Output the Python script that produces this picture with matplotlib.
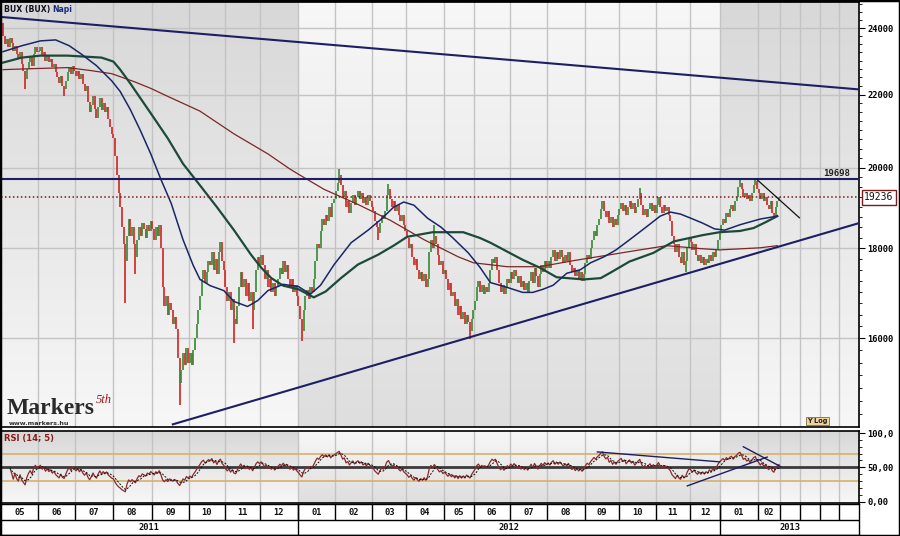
import matplotlib
matplotlib.use("Agg")
import matplotlib.pyplot as plt
import matplotlib.colors as mcolors
import numpy as np
import pandas as pd
from matplotlib.patches import Rectangle
from matplotlib import transforms
from matplotlib.ticker import FixedLocator, NullFormatter

# honapok es evek az also sorban
month_labels = ["05", "06", "07", "08", "09", "10", "11", "12",
                "01", "02", "03", "04", "05", "06", "07", "08", "09", "10", "11", "12",
                "01", "02"]
year_labels = ["2011", "2012", "2013"]
bars_per_month = [21, 22, 22, 23, 22, 21, 21, 22,
                  22, 22, 20, 22, 18, 21, 22, 22, 20, 22, 20, 18,
                  22, 13]
months_per_year = [8, 12, 2]

# BUX napi zaro ertekek (a kepbol leolvasva)
close_2011 = [
    23750, 23500, 23650, 23400, 23700, 23550, 23300, 23450, 23200, 23050, 23250,
    22900, 22700, 22450, 22750, 22950, 23100, 22850, 23200, 23400, 23250,
    23300, 23400, 23150, 23250, 23000, 23150, 22950, 23050, 22800, 22900, 22650,
    22500, 22350, 22550, 22250, 22150, 22400, 22650, 22800, 22600, 22850, 22700,
    22550, 22700, 22450, 22600, 22300, 22100, 22250, 21800, 21500, 21700, 21950,
    21600, 21350, 21650, 21900, 21550, 21750, 21500, 21650, 21300, 21100, 20900,
    20800, 20300, 19800, 19350, 19000, 18500, 18100, 17700, 18300, 18700, 18300,
    18500, 18100, 17800, 18200, 18500, 18300, 18600, 18450, 18250, 18550, 18400, 18650,
    18450, 18200, 18500, 18300, 18550, 18000, 17100, 16700, 16900, 16500, 16750,
    16600, 16300, 16450, 16200, 15600, 15100, 15350, 15700, 15450, 15800, 15500,
    15700, 15450, 15750, 16000, 16300, 16600, 16900, 17300, 17500, 17200, 17450,
    17700, 17600, 17900, 17500, 17750, 17400, 17900, 18150, 17700, 17500,
    17100, 16800, 17000, 16600, 16850, 16400, 16300, 16700, 17100, 17450, 17100,
    17300, 16900, 17200, 16800, 17000, 16600, 17000, 17500, 17800, 17600,
    17850, 17600, 17300, 17500, 17100, 17300, 17000, 17200, 16900, 17100, 17300,
    17550, 17400, 17700, 17450, 17600, 17300, 17100, 17300, 17000, 17150, 16900,
]
close_2012 = [
    16700, 16400, 16150, 16600, 16900, 17050, 16850, 17100, 17000, 17300, 17700,
    18100, 18000, 18400, 18700, 18550, 18800, 18650, 19000, 18750, 19100, 19200,
    19400, 19600, 19800, 19550, 19250, 19400, 19000, 19150, 18850, 19100, 19300,
    19050, 19250, 19400, 19200, 19350, 19100, 19250, 19050, 19300, 19150, 19000,
    18900, 18650, 18500, 18350, 18600, 18800, 18700, 18900, 19300, 19450,
    19200, 19000, 19150, 18900, 19050, 18800, 18650, 18800, 18550, 18400,
    18250, 18000, 18100, 17800, 17600, 17750, 17500, 17300, 17450, 17250, 17400,
    17100, 17300, 17900, 18200, 18000, 18300, 18100, 17850, 17600, 17700, 17400,
    17500, 17300, 17050, 17200, 16900, 17000, 16700, 16850, 16500,
    16700, 16400, 16550, 16300, 16500, 16350, 16150, 16400, 16600,
    16800, 17100, 17250, 17000, 17150, 16950, 17100, 17000, 17200, 17500, 17750,
    17650, 17800, 17500, 17200, 17000, 17150, 16950, 17100, 17300, 17200,
    17450, 17300, 17500, 17350, 17200, 17350, 17100, 17250, 17050, 17200, 17000,
    17250, 17450, 17200, 17550, 17350, 17100, 17400, 17600, 17450, 17700, 17550,
    17700, 17550, 17800, 17950, 17700, 17900, 17750, 17950, 17800, 17650, 17850,
    17700, 17900, 17600, 17450, 17550, 17350, 17500, 17300, 17450, 17250, 17400,
    17650, 17850, 17750, 18000, 18200, 18400, 18300, 18550, 18700, 18950,
    19150, 18900, 18750, 18900, 18600, 18750, 18500, 18700, 18550, 18800,
    18950, 19100, 18900, 19050, 18800, 19000, 19150, 18950, 19100, 18850, 19000,
    19200, 19350, 19050, 18800, 18950, 18750, 18950, 19100, 18900, 19050, 18850,
    19050, 19250, 19000, 18850, 19050, 18900, 19000, 18800, 18650, 18300,
    18100, 17900, 18100, 17800, 17650, 17900, 17600, 17700, 18000, 18250,
    18150, 17950, 18100, 17850, 17700, 17850, 17650, 17800, 17600,
    17750, 17650, 17850, 17700, 17900, 17800, 17950, 18200, 18400,
]
close_2013 = [
    18550, 18700, 18600, 18850, 18750, 18950, 19050, 18900, 19150, 19250, 19500,
    19600, 19450, 19250, 19350, 19200, 19300, 19150, 19350, 19550, 19650, 19450,
    19350, 19200, 19350, 19150, 19250, 19050, 18950, 19150, 18850, 18750, 19000,
    19150, 19236,
]
first_open = 23900

# hosszu kanocok
spike_lo_idx = [13, 36, 72, 78, 104, 136, 147, 176, 221, 275, 402, 454]
spike_lo = [22150, 21950, 16750, 17400, 14660, 15900, 16200, 15950, 18200, 15990, 17450, 18700]
spike_hi_idx = [0, 198, 227, 254, 375, 434, 443]
spike_hi = [24150, 19950, 19570, 18550, 19480, 19680, 19700]

# mozgoatlagok (leolvasott pontok)
ma_navy_x = [0, 11, 22, 31, 39, 46, 55, 64, 69, 75, 81, 87, 93, 99, 106, 112, 116, 122, 130, 136,
             144, 150, 156, 165, 174, 181, 187, 195, 205, 215, 222, 230, 236, 242, 250, 258, 265,
             274, 281, 287, 297, 306, 312, 318, 324, 332, 340, 346, 354, 361, 369, 378, 387, 393,
             399, 405, 412, 419, 425, 434, 446, 456]
ma_navy = [23270, 23450, 23600, 23630, 23450, 23200, 22850, 22400, 22090, 21570, 20980, 20360,
           19690, 19090, 18200, 17600, 17280, 17140, 17030, 16790, 16680, 16810, 17030, 17170,
           17120, 16950, 17150, 17620, 18130, 18430, 18670, 18990, 19120, 19040, 18720, 18500,
           18240, 17890, 17550, 17210, 17100, 16990, 16990, 17060, 17150, 17420, 17500, 17660,
           17800, 17960, 18200, 18480, 18770, 18870, 18820, 18720, 18600, 18460, 18430, 18560,
           18700, 18770]
ma_green_x = [0, 11, 22, 38, 58, 65, 69, 75, 81, 87, 97, 106, 116, 126, 136, 146, 152, 158, 165,
              174, 183, 190, 199, 209, 221, 230, 238, 253, 271, 281, 287, 306, 316, 326, 342, 352,
              358, 369, 383, 395, 412, 422, 434, 442, 449, 456]
ma_green = [22940, 23090, 23150, 23150, 23090, 22970, 22730, 22320, 21890, 21470, 20780, 20100,
            19540, 18990, 18430, 17850, 17550, 17310, 17140, 17060, 16880, 17010, 17310, 17620,
            17850, 18060, 18270, 18380, 18380, 18240, 18130, 17730, 17550, 17330, 17280, 17310,
            17440, 17690, 17890, 18160, 18310, 18380, 18410, 18480, 18620, 18770]
ma_brown_x = [0, 18, 38, 52, 64, 77, 87, 97, 116, 136, 156, 169, 175, 189, 209, 228, 248, 268, 277,
              297, 316, 336, 358, 375, 391, 411, 422, 446, 456]
ma_brown = [22730, 22760, 22790, 22700, 22610, 22380, 22180, 21950, 21530, 20900, 20360, 19960,
            19800, 19440, 19060, 18670, 18200, 17800, 17660, 17570, 17570, 17710, 17850, 17960,
            18060, 17990, 17960, 18010, 18060]

# trendvonalak
top_tl_x, top_tl_y = [-1.2, 504.1], [24350, 22150]
low_tl_x, low_tl_y = [100, 504.1], [14300, 18600]
short_tl_x, short_tl_y = [444, 469], [19690, 18730]
resistance = 19698
last_price = 19236

# RSI trendvonalak
rsi_tl_x = [[350, 422], [403, 450], [436, 458]]
rsi_tl_y = [[72.5, 58], [23, 65], [80, 51]]

W, H = 900, 536
XMIN, XMAX = -1.2, 504.1
future_edges = [469.5, 481, 492.5]


def rect(x0, y0, x1, y1):
    return [x0 / W, 1 - y1 / H, (x1 - x0) / W, (y1 - y0) / H]


closes = np.array(close_2011 + close_2012 + close_2013, dtype=float)
n = len(closes)
xs = np.arange(n)
opens = np.concatenate([[first_open], closes[:-1]])
lows = np.minimum(opens, closes)
highs = np.maximum(opens, closes)
for i, v in zip(spike_lo_idx, spike_lo):
    lows[i] = min(lows[i], v)
for i, v in zip(spike_hi_idx, spike_hi):
    highs[i] = max(highs[i], v)
cols = np.where(closes >= opens, "#3d8c3a", "#d32a2a")

edges = np.concatenate([[0], np.cumsum(bars_per_month)]) - 0.5
year_idx = np.concatenate([[0], np.cumsum(months_per_year)])

# RSI(14) es 5 napos jelzovonal
d = pd.Series(closes).diff()
gain = d.clip(lower=0).ewm(alpha=1 / 14, adjust=True, min_periods=4).mean()
loss = (-d).clip(lower=0).ewm(alpha=1 / 14, adjust=True, min_periods=4).mean()
rsi = 100 * gain / (gain + loss)
rsi_sig = rsi.rolling(5, min_periods=1).mean()

fig = plt.figure(figsize=(9, 5.36), dpi=100)
fig.patch.set_facecolor("white")

mono = "DejaVu Sans Mono"


def background(r, bands):
    bg = fig.add_axes(r)
    bg.axis("off")
    t = np.linspace(0, 1, 64)[:, None, None]
    for x0, x1, top, bot in bands:
        ct = np.array(mcolors.to_rgb(top))
        cb = np.array(mcolors.to_rgb(bot))
        img = cb * (1 - t) + ct * t
        bg.imshow(img, extent=[x0, x1, 0, 1], origin="lower", aspect="auto",
                  interpolation="bilinear")
    bg.set_xlim(XMIN, XMAX)
    bg.set_ylim(0, 1)


side_top, side_bot = "#d8d8d8", "#f7f7f7"
mid_top, mid_bot = "#f7f7f7", "#dedede"
bands = [(XMIN, edges[8], side_top, side_bot),
         (edges[8], edges[20], mid_top, mid_bot),
         (edges[20], XMAX, side_top, side_bot)]

# ---- fo panel ----
main_r = rect(1, 2, 859, 427)
background(main_r, bands)
ax = fig.add_axes(main_r)
ax.patch.set_alpha(0)
ax.set_yscale("log")
ax.set_xlim(XMIN, XMAX)
ax.set_ylim(14250, 24830)

for e in list(edges[1:]) + future_edges:
    ax.axvline(e, color="#c3c3c3", lw=1.0, zorder=1)
for lv in [16000, 18000, 20000, 22000, 24000]:
    ax.axhline(lv, color="#c3c3c3", lw=1.0, zorder=1)

ax.vlines(xs, lows, highs, colors=cols, lw=1.25, zorder=2)

ax.plot(ma_brown_x, ma_brown, color="#7d2626", lw=0.9, zorder=3)
ax.plot(ma_green_x, ma_green, color="#1d4a38", lw=1.6, zorder=3)
ax.plot(ma_navy_x, ma_navy, color="#1a2666", lw=1.1, zorder=3)

ax.axhline(resistance, color="#1c1f66", lw=1.5, zorder=4)
ax.axhline(last_price, color="#7a1a1a", lw=1.1, ls=(0, (1, 1.6)), zorder=4)
ax.plot(top_tl_x, top_tl_y, color="#1c1f66", lw=1.5, zorder=4)
ax.plot(low_tl_x, low_tl_y, color="#1c1f66", lw=1.5, zorder=4)
ax.plot(short_tl_x, short_tl_y, color="#111111", lw=0.9, zorder=4)

ax.text(499, resistance * 1.002, str(resistance), ha="right", va="bottom",
        fontsize=6.5, family=mono, fontweight="bold", color="#222222", zorder=5)
tr = transforms.blended_transform_factory(ax.transAxes, ax.transData)
ax.text(1.006, last_price, str(last_price), transform=tr, ha="left", va="center",
        fontsize=7, family=mono, color="#111111", clip_on=False,
        bbox=dict(boxstyle="square,pad=0.25", fc="white", ec="#7a1c1c", lw=1.0))

ax.yaxis.tick_right()
ax.set_yticks([16000, 18000, 20000, 22000, 24000])
ax.set_yticklabels(["16000", "18000", "20000", "22000", "24000"],
                   fontsize=6.3, family=mono, fontweight="bold")
ax.yaxis.set_minor_locator(FixedLocator(np.arange(14500, 24800, 250)))
ax.yaxis.set_minor_formatter(NullFormatter())
ax.tick_params(axis="y", which="major", direction="out", length=4, width=0.8, pad=2)
ax.tick_params(axis="y", which="minor", direction="out", length=2, width=0.6)
ax.set_xticks([])
for s in ["top", "right", "bottom"]:
    ax.spines[s].set_color("black")
    ax.spines[s].set_linewidth(1.2)
ax.spines["left"].set_visible(False)

# ---- RSI panel ----
rsi_r = rect(1, 431, 859, 503)
background(rsi_r, bands)
rx = fig.add_axes(rsi_r)
rx.patch.set_alpha(0)
rx.set_xlim(XMIN, XMAX)
rx.set_ylim(-2, 103)
for e in list(edges[1:]) + future_edges:
    rx.axvline(e, color="#c3c3c3", lw=1.0, zorder=1)
rx.axhline(70, color="#d8b06c", lw=1.2, zorder=2)
rx.axhline(30, color="#d8b06c", lw=1.2, zorder=2)
rx.axhline(50, color="#3a3a3a", lw=2.0, zorder=2)
rx.plot(xs, rsi, color="#8b2a2a", lw=0.9, zorder=3)
rx.plot(xs, rsi_sig, color="#111111", lw=0.7, ls=(0, (2, 1.5)), zorder=3)
for tx, ty in zip(rsi_tl_x, rsi_tl_y):
    rx.plot(tx, ty, color="#1c1f66", lw=1.0, zorder=4)
rx.yaxis.tick_right()
rx.set_yticks([0, 50, 100])
rx.set_yticklabels(["0,00", "50,00", "100,0"], fontsize=6.3, family=mono, fontweight="bold")
rx.set_yticks(np.arange(0, 101, 10), minor=True)
rx.tick_params(axis="y", which="major", direction="out", length=4, width=0.8, pad=2)
rx.tick_params(axis="y", which="minor", direction="out", length=2, width=0.6)
rx.set_xticks([])
for s in ["top", "right", "bottom"]:
    rx.spines[s].set_color("black")
    rx.spines[s].set_linewidth(1.2)
rx.spines["left"].set_visible(False)

# ---- datum sorok ----
dx = fig.add_axes(rect(1, 504, 859, 535))
dx.set_xlim(XMIN, XMAX)
dx.set_ylim(0, 1)
mid = 0.484
dx.axhline(mid, color="black", lw=1.0)
dx.vlines(list(edges[1:]) + future_edges, mid, 1, color="black", lw=1.0)
dx.vlines([edges[year_idx[1]], edges[year_idx[2]]], 0, 1, color="black", lw=1.0)
for i, lab in enumerate(month_labels):
    dx.text((edges[i] + edges[i + 1]) / 2, 0.74, lab, ha="center", va="center",
            fontsize=6.3, family=mono, fontweight="bold", color="#111111")
year_right = [edges[year_idx[1]], edges[year_idx[2]], XMAX]
year_left = [XMIN, edges[year_idx[1]], edges[year_idx[2]]]
for x0, x1, lab in zip(year_left, year_right, year_labels):
    dx.text((x0 + x1) / 2, 0.24, lab, ha="center", va="center",
            fontsize=6.3, family=mono, fontweight="bold", color="#111111")
dx.set_xticks([])
dx.set_yticks([])
for s in dx.spines.values():
    s.set_linewidth(1.0)
dx.spines["left"].set_visible(False)


# ---- feliratok ----
def ftext(px, py, s, **kw):
    fig.text(px / W, 1 - py / H, s, **kw)


ftext(4, 12, "BUX (BUX)", fontsize=5.6, fontweight="bold", color="#111122", va="baseline")
ftext(52, 12, "Napi", fontsize=5.6, fontweight="bold", color="#1a2a80", va="baseline")
ftext(4, 441, "RSI (14; 5)", fontsize=6, fontweight="bold", color="#8b1a1a", va="baseline")
ftext(7, 414, "Markers", fontsize=17, fontweight="bold", family="Liberation Serif",
      color="#2a2a2a", va="baseline")
ftext(96, 403, "5th", fontsize=9, style="italic", family="Liberation Serif",
      color="#a01818", va="baseline")
ftext(9, 425, "www.markers.hu", fontsize=4.6, fontweight="bold", color="#333333",
      va="baseline")
ftext(807, 423, "Y Log", fontsize=4.8, fontweight="bold", color="#222222", va="baseline",
      bbox=dict(boxstyle="square,pad=0.2", fc="#efd39a", ec="#8a6a3a", lw=0.6))

fig.add_artist(Rectangle((0, 0), 1, 1, transform=fig.transFigure, fill=False,
                         ec="black", lw=2.5))

fig.savefig("out.png", dpi=100)
